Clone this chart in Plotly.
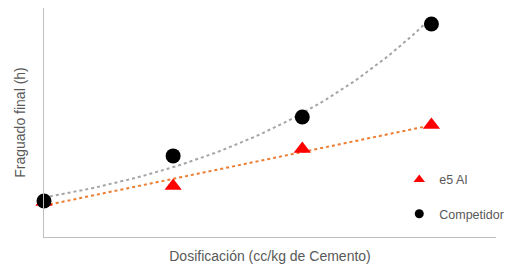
import numpy as np
import plotly.graph_objects as go

# Data (arbitrary units, no tick labels shown)
dosificacion = [1, 2, 3, 4]
e5_ai = [1.52, 2.21, 3.81, 4.85]
competidor = [1.56, 3.51, 5.19, 9.22]

x = np.array(dosificacion, dtype=float)
xt = np.linspace(x.min(), x.max(), 60)

# linear trendline for e5 AI
a, b = np.polyfit(x, np.array(e5_ai), 1)
yt_e5 = a * xt + b
# exponential trendline for Competidor
k, c = np.polyfit(x, np.log(np.array(competidor)), 1)
yt_comp = np.exp(c) * np.exp(k * xt)

font = "Liberation Sans"
grey_text = "#595959"

fig = go.Figure()
fig.add_trace(go.Scatter(x=xt, y=yt_comp, mode="lines", showlegend=False,
                         line=dict(color="#A5A5A5", width=2, dash="dot"), hoverinfo="skip"))
fig.add_trace(go.Scatter(x=xt, y=yt_e5, mode="lines", showlegend=False,
                         line=dict(color="#ED7D31", width=2, dash="dot"), hoverinfo="skip"))
fig.add_trace(go.Scatter(x=dosificacion, y=e5_ai, mode="markers", name="e5 AI",
                         showlegend=False, cliponaxis=False,
                         marker=dict(symbol="triangle-up", color="#FF0000", size=15)))
fig.add_trace(go.Scatter(x=dosificacion, y=competidor, mode="markers", name="Competidor",
                         showlegend=False, cliponaxis=False,
                         marker=dict(symbol="circle", color="#000000", size=15)))
# legend entries (smaller markers, as in the reference legend)
fig.add_trace(go.Scatter(x=[None], y=[None], mode="markers", name="e5 AI",
                         legendgroup="a",
                         marker=dict(symbol="triangle-up", color="#FF0000", size=10)))
fig.add_trace(go.Scatter(x=[None], y=[None], mode="markers", name="Competidor",
                         legendgroup="b",
                         marker=dict(symbol="circle", color="#000000", size=9)))

# page body has an 8px margin, so the figure is offset to compensate
fig.update_layout(
    width=513, height=256,
    margin=dict(l=36, r=25, t=0, b=27),
    paper_bgcolor="white", plot_bgcolor="white",
    font=dict(family=font, size=13, color=grey_text),
    legend=dict(x=0.786, y=0.315, xanchor="left", yanchor="top",
                bgcolor="rgba(0,0,0,0)", tracegroupgap=15,
                font=dict(family=font, size=12.5, color=grey_text)),
    xaxis=dict(range=[1, 4.5], showgrid=False, zeroline=False, showticklabels=False,
               ticks="", showline=True, linecolor="#BFBFBF", linewidth=1,
               automargin=False,
               title=dict(text="Dosificación (cc/kg de Cemento)", standoff=15,
                          font=dict(family=font, size=14, color=grey_text))),
    yaxis=dict(range=[0, 9.91], showgrid=False, zeroline=False, showticklabels=False,
               ticks="", showline=True, linecolor="#BFBFBF", linewidth=1,
               automargin=False,
               title=dict(text="Fraguado final (h)", standoff=14,
                          font=dict(family=font, size=14, color=grey_text))),
)

fig.write_html("out.html")
